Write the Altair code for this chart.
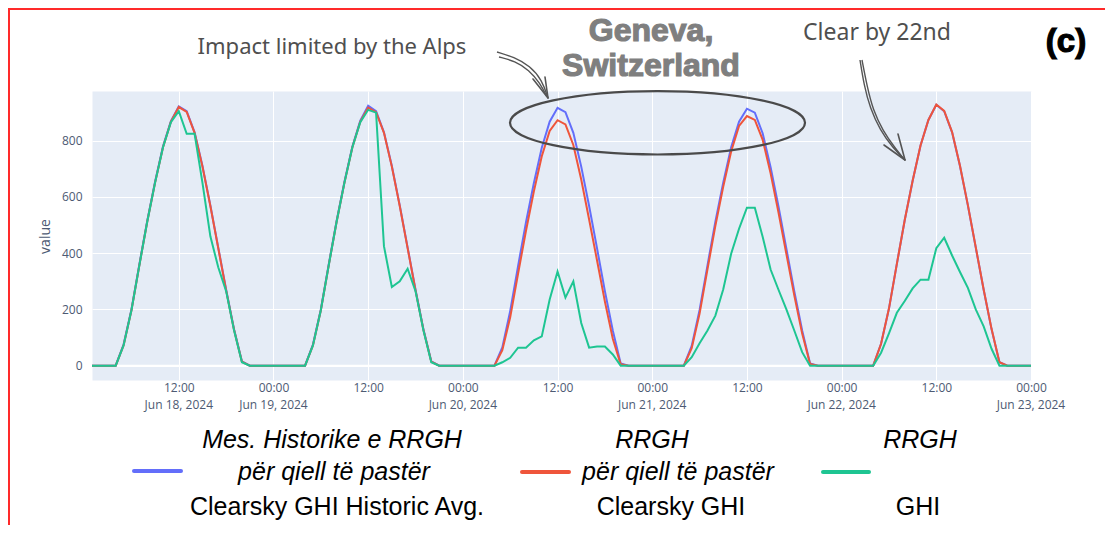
import altair as alt
import pandas as pd

# ---------------- data (hourly, local time, Jun 18 00:00 .. Jun 22 23:00, plus Jun 23 00:00) ----------------
hist_jun18 = [0, 0, 0, 0, 0, 75, 200, 360, 515, 655, 780, 870, 922, 905, 830, 710, 570, 420, 270, 130, 15, 0, 0, 0]
hist_jun19 = [0, 0, 0, 0, 0, 75, 200, 360, 515, 655, 780, 872, 925, 905, 830, 710, 570, 420, 270, 130, 15, 0, 0, 0]
hist_jun20 = [0, 0, 0, 0, 0, 65, 195, 355, 510, 650, 775, 868, 917, 902, 828, 708, 568, 418, 265, 125, 8, 0, 0, 0]
hist_jun21 = [0, 0, 0, 0, 0, 70, 198, 357, 512, 652, 777, 868, 914, 900, 826, 706, 566, 416, 265, 125, 8, 0, 0, 0]
hist_jun22 = [0, 0, 0, 0, 0, 78, 203, 362, 518, 658, 783, 874, 928, 905, 830, 710, 570, 420, 270, 130, 12, 0, 0, 0]

clear_jun18 = [0, 0, 0, 0, 0, 72, 197, 357, 512, 652, 777, 868, 920, 903, 828, 708, 568, 418, 268, 128, 14, 0, 0, 0]
clear_jun19 = [0, 0, 0, 0, 0, 72, 197, 357, 512, 652, 777, 868, 918, 902, 828, 708, 568, 418, 268, 128, 14, 0, 0, 0]
clear_jun20 = [0, 0, 0, 0, 0, 55, 172, 328, 480, 620, 745, 835, 873, 858, 785, 662, 520, 375, 228, 96, 5, 0, 0, 0]
clear_jun21 = [0, 0, 0, 0, 0, 62, 185, 343, 497, 637, 762, 853, 888, 874, 803, 684, 545, 397, 250, 114, 6, 0, 0, 0]
clear_jun22 = [0, 0, 0, 0, 0, 78, 203, 362, 518, 658, 783, 874, 929, 906, 831, 711, 571, 421, 271, 131, 12, 0, 0, 0]

ghi_jun18 = [0, 0, 0, 0, 0, 72, 197, 357, 512, 652, 777, 866, 905, 825, 825, 650, 460, 350, 265, 126, 12, 0, 0, 0]
ghi_jun19 = [0, 0, 0, 0, 0, 72, 197, 357, 512, 652, 777, 866, 910, 900, 425, 280, 300, 345, 265, 126, 12, 0, 0, 0]
ghi_jun20 = [0, 0, 0, 0, 0, 12, 28, 64, 64, 90, 104, 235, 335, 242, 300, 152, 64, 68, 68, 40, 0, 0, 0, 0]
ghi_jun21 = [0, 0, 0, 0, 0, 30, 80, 125, 178, 272, 398, 487, 562, 562, 458, 342, 270, 200, 125, 48, 0, 0, 0, 0]
ghi_jun22 = [0, 0, 0, 0, 0, 46, 115, 188, 230, 275, 306, 306, 418, 455, 392, 333, 277, 200, 140, 60, 0, 0, 0, 0]

final_value = [0]

hist = hist_jun18 + hist_jun19 + hist_jun20 + hist_jun21 + hist_jun22 + final_value
clear = clear_jun18 + clear_jun19 + clear_jun20 + clear_jun21 + clear_jun22 + final_value
ghi = ghi_jun18 + ghi_jun19 + ghi_jun20 + ghi_jun21 + ghi_jun22 + final_value

times = pd.date_range("2024-06-18 00:00", "2024-06-23 00:00", freq="h")
df = pd.DataFrame({
    "t": times.strftime("%Y-%m-%dT%H:%M:%S"),
    "hist": hist,
    "clear": clear,
    "ghi": ghi,
}).iloc[1:]

y_ticks = [0, 200, 400, 600, 800]
x_tick_points = [(18, 12), (19, 0), (19, 12), (20, 0), (20, 12), (21, 0), (21, 12), (22, 0), (22, 12), (23, 0)]
date_label_times = ["2024-06-18T12:00:00", "2024-06-19T00:00:00", "2024-06-20T00:00:00",
                    "2024-06-21T00:00:00", "2024-06-22T00:00:00", "2024-06-23T00:00:00"]
date_label_texts = ["Jun 18, 2024", "Jun 19, 2024", "Jun 20, 2024",
                    "Jun 21, 2024", "Jun 22, 2024", "Jun 23, 2024"]

# ---------------- styling ----------------
W, H = 939, 289
OX, OY = 92, 91  # plot origin on page
BLUE, RED, GREEN = "#636EFA", "#EF553B", "#1ec592"
AXIS_COLOR = "#4d5a73"
LEG_FONT = "Liberation Sans"
LEG_SIZE = 25

x_vals = [alt.DateTime(year=2024, month=6, date=d, hours=h) for d, h in x_tick_points]
x_axis = alt.Axis(
    values=x_vals, format="%H:%M",
    title=None, grid=True, gridColor="white", gridWidth=1, domain=False, ticks=False,
    labelPadding=2, labelFont="Open Sans", labelFontSize=12, labelColor=AXIS_COLOR,
    labelFlush=False, labelOverlap=False, labelBound=False,
)
y_axis = alt.Axis(
    values=y_ticks, title="value", grid=True, gridColor="white", gridWidth=1,
    domain=False, ticks=False, labelPadding=10, labelFont="Open Sans", labelFontSize=12,
    labelColor=AXIS_COLOR, titleFont="Open Sans", titleFontSize=14, titleFontWeight="normal",
    titleColor=AXIS_COLOR, titleX=-47, titleY=145, titleAngle=270, titleAlign="center",
    titleBaseline="middle",
)
x_scale = alt.Scale(domain=[alt.DateTime(year=2024, month=6, date=18, hours=1),
                            alt.DateTime(year=2024, month=6, date=23, hours=0)])
y_scale = alt.Scale(domain=[-51, 977], nice=False, zero=False)

def series(col, color):
    return alt.Chart(df).mark_line(color=color, strokeWidth=2, clip=True).encode(
        x=alt.X("t:T", scale=x_scale, axis=x_axis),
        y=alt.Y(f"{col}:Q", scale=y_scale, axis=y_axis),
    )

zero = alt.Chart(pd.DataFrame({"t": ["2024-06-18T01:00:00"], "v": [0]})).mark_rule(
    color="white", strokeWidth=2).encode(
    y=alt.Y("v:Q", scale=y_scale, axis=y_axis),
)

# second line of the x tick labels (dates), positioned through the x scale
date_labels = alt.Chart(pd.DataFrame({"t": date_label_times, "lab": date_label_texts})).mark_text(
    font="Open Sans", fontSize=12, color=AXIS_COLOR, align="center", baseline="middle"
).encode(
    x=alt.X("t:T", scale=x_scale, axis=x_axis),
    y=alt.value(H + 25),
    text="lab:N",
)

one = pd.DataFrame({"k": [0]})

def label(txt, x, y, size, color="black", font="Liberation Sans", italic=False, bold=False,
          stroke=None, sw=0.0):
    kw = dict(text=txt, fontSize=size, font=font, color=color, align="center", baseline="middle")
    if italic:
        kw["fontStyle"] = "italic"
    if bold:
        kw["fontWeight"] = "bold"
    if stroke:
        kw["stroke"] = stroke
        kw["strokeWidth"] = sw
    return alt.Chart(one).mark_text(**kw).encode(x=alt.value(x - OX), y=alt.value(y - OY))

def seg(x1, y1, x2, y2, color, width, cap="round"):
    return alt.Chart(one).mark_rule(color=color, strokeWidth=width, strokeCap=cap).encode(
        x=alt.value(x1 - OX), y=alt.value(y1 - OY), x2=alt.value(x2 - OX), y2=alt.value(y2 - OY))

# ellipse annotation placed in data coordinates
ell_df = pd.DataFrame({"t": ["2024-06-21T00:40:00"], "v": [864]})
ellipse_path = "M -1 0 A 1 0.215 0 1 1 1 0 A 1 0.215 0 1 1 -1 0 Z"
ellipse = alt.Chart(ell_df).mark_point(
    shape=ellipse_path, size=295 ** 2, filled=False, stroke="#4a4a4a", strokeWidth=2.2, opacity=1
).encode(
    x=alt.X("t:T", scale=x_scale, axis=x_axis),
    y=alt.Y("v:Q", scale=y_scale, axis=y_axis),
)

# hand-drawn arrows (page pixel positions of annotation strokes)
arrow_pts = pd.DataFrame({
    "px": [497, 514, 530, 542, 548, 499, 515, 529, 540, 547,
           860, 864, 870, 880, 893, 905, 862, 867, 873, 883, 895, 904],
    "py": [52, 57, 66, 80, 98, 57, 61, 70, 83, 97,
           60, 85, 108, 130, 148, 160, 60, 86, 110, 131, 148, 159],
    "s": ["a"] * 5 + ["b"] * 5 + ["c"] * 6 + ["d"] * 6,
    "o": list(range(5)) + list(range(5)) + list(range(6)) + list(range(6)),
})
arrow_pts["rx"] = arrow_pts["px"] - OX
arrow_pts["ry"] = arrow_pts["py"] - OY
arrows = alt.Chart(arrow_pts).mark_line(color="#555555", strokeWidth=1.4, interpolate="basis").encode(
    x=alt.X("rx:Q", scale=None, axis=None),
    y=alt.Y("ry:Q", scale=None, axis=None),
    detail="s:N", order="o:Q",
)

layers = [
    zero,
    series("hist", BLUE),
    series("clear", RED),
    series("ghi", GREEN),
    date_labels,
    ellipse,
    arrows,
    seg(548, 98, 533, 79, "#555555", 1.6),
    seg(548, 98, 545, 77, "#555555", 1.6),
    seg(905, 160, 884, 145, "#555555", 1.6),
    seg(905, 160, 898, 134, "#555555", 1.6),
    # frame
    seg(8, 9, 1105, 9, "#ff2a2a", 2, "butt"),
    seg(9, 8, 9, 531, "#ff2a2a", 2, "butt"),
    # titles / annotations
    label("Impact limited by the Alps", 332, 47, 22, color="#4f4f4f", font="Noto Sans"),
    label("Clear by 22nd", 877, 33, 23, color="#4f4f4f", font="Noto Sans"),
    label("Geneva,", 651, 31, 32, color="#7f7f7f", bold=True, stroke="#7f7f7f", sw=1.2),
    label("Switzerland", 651, 66, 32, color="#7f7f7f", bold=True, stroke="#7f7f7f", sw=1.2),
    label("(c)", 1066, 42, 33, color="black", bold=True, stroke="black", sw=1.2),
    # legend
    seg(134, 471, 181, 471, BLUE, 4),
    seg(522, 472, 569, 472, RED, 4),
    seg(823, 472, 869, 472, GREEN, 4),
    label("Mes. Historike e RRGH", 332, 440, LEG_SIZE, font=LEG_FONT, italic=True),
    label("për qiell të pastër", 334, 472, LEG_SIZE, font=LEG_FONT, italic=True),
    label("Clearsky GHI Historic Avg.", 337, 507, LEG_SIZE, font=LEG_FONT),
    label("RRGH", 652, 440, LEG_SIZE, font=LEG_FONT, italic=True),
    label("për qiell të pastër", 678, 472, LEG_SIZE, font=LEG_FONT, italic=True),
    label("Clearsky GHI", 671, 507, LEG_SIZE, font=LEG_FONT),
    label("RRGH", 920, 440, LEG_SIZE, font=LEG_FONT, italic=True),
    label("GHI", 918, 507, LEG_SIZE, font=LEG_FONT),
]

chart = alt.layer(*layers).properties(
    width=W, height=H,
    padding={"left": OX - 8, "top": OY - 8, "right": 1097 - (OX - 8) - W, "bottom": 145},
    autosize=alt.AutoSizeParams(type="none"),
    background="white",
).configure_view(fill="#E5ECF6", stroke="transparent")

chart.save("out.html", embed_options={"renderer": "svg", "actions": False})
